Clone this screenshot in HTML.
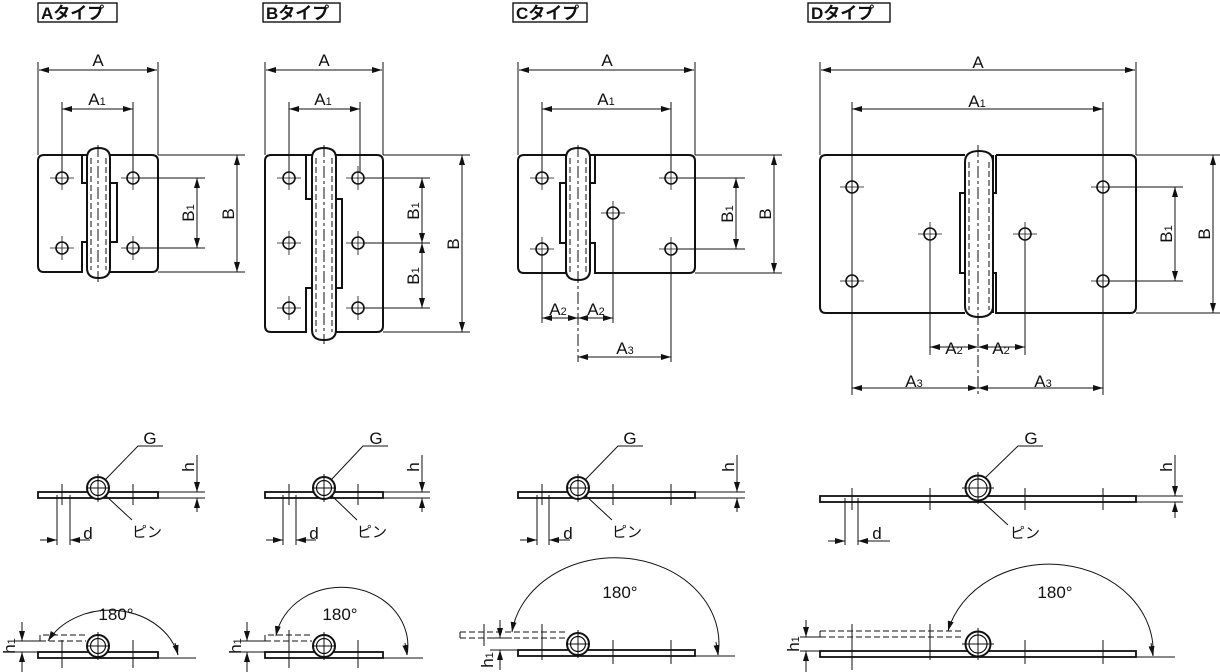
<!DOCTYPE html>
<html><head><meta charset="utf-8"><style>
html,body{margin:0;padding:0;background:#fff;width:1220px;height:672px;overflow:hidden}
svg{display:block}
text{font-family:"Liberation Sans","Noto Sans CJK JP",sans-serif;fill:#111}
</style></head><body>
<svg width="1220" height="672" viewBox="0 0 1220 672" xmlns="http://www.w3.org/2000/svg">
<defs>
<marker id="a" viewBox="0 0 10 6" refX="10" refY="3" markerWidth="10" markerHeight="6" markerUnits="userSpaceOnUse" orient="auto"><path d="M0,0L10,3L0,6z" fill="#111"/></marker>
<g id="h"><circle r="6" fill="#fff" stroke="#111" stroke-width="1.6"/><path d="M-12,0H12M0,-12V12" stroke="#111" stroke-width="0.8"/></g>
</defs>
<g fill="none" stroke="#111" stroke-width="1">

<rect x="38" y="3" width="79" height="19" stroke-width="1.4"/>
<rect x="263" y="3" width="77" height="19" stroke-width="1.4"/>
<rect x="513" y="3" width="74" height="19" stroke-width="1.4"/>
<rect x="808" y="3" width="82" height="19" stroke-width="1.4"/>

<g stroke-width="2">
<path d="M87,155H44q-6,0-6,6V266q0,6,6,6H82V242H117V183H82V155"/>
<path d="M110,155H152q6,0,6,6V266q0,6-6,6H110"/>
<path d="M87,158q0-10,11.5-10q11.5,0,11.5,10V268q0,10-11.5,10q-11.5,0-11.5-10z" fill="#fff"/>
</g>
<path d="M91,158V270M106,158V270" stroke-dasharray="6,3"/>
<path d="M98,145V282" stroke-dasharray="12,3,3,3"/>
<use href="#h" x="62" y="178"/><use href="#h" x="133" y="178"/><use href="#h" x="62" y="248"/><use href="#h" x="133" y="248"/>
<path d="M38,62V155M158,62V155M62,102V172M133,102V172M140,178H205M140,248H205M158,155H245M158,272H245"/>

<g stroke-width="2">
<path d="M312,155H271q-6,0-6,6V326q0,6,6,6H306V288H342V199H306V155"/>
<path d="M336,155H377q6,0,6,6V326q0,6-6,6H336"/>
<path d="M312,158q0-10,12-10q12,0,12,10V330q0,10-12,10q-12,0-12-10z" fill="#fff"/>
</g>
<path d="M316,158V332M332,158V332" stroke-dasharray="6,3"/>
<path d="M324,145V344" stroke-dasharray="12,3,3,3"/>
<use href="#h" x="289" y="178"/><use href="#h" x="358" y="178"/><use href="#h" x="289" y="243"/><use href="#h" x="358" y="243"/><use href="#h" x="289" y="308"/><use href="#h" x="358" y="308"/>
<path d="M265,62V155M383,62V155M289,102V172M360,102V172M365,178H430M365,243H430M365,308H430M383,155H470M383,332H470"/>

<g stroke-width="2">
<path d="M566,155H524q-6,0-6,6V267q0,6,6,6H566V243H560V183H566V155"/>
<path d="M590,155H595V183H590M590,243H595V273H689q6,0,6-6V161q0-6-6-6H595"/>
<path d="M566,158q0-10,12-10q12,0,12,10V270q0,10-12,10q-12,0-12-10z" fill="#fff"/>
</g>
<path d="M570,158V272M586,158V272" stroke-dasharray="6,3"/>
<path d="M578,145V362" stroke-dasharray="12,3,3,3"/>
<use href="#h" x="542" y="178"/><use href="#h" x="671" y="178"/><use href="#h" x="542" y="249"/><use href="#h" x="671" y="249"/><use href="#h" x="613" y="213"/>
<path d="M518,62V155M695,62V155M542,102V172M671,102V172M542,255V323M613,219V323M671,255V362M678,178H745M678,249H745M695,155H782M695,273H782"/>

<g stroke-width="2">
<path d="M965,155H826q-6,0-6,6V307q0,6,6,6H965M993,155V193H960V273H993V313"/>
<path d="M996,155V193H993M993,273H996V313H1130q6,0,6-6V161q0-6-6-6H996"/>
<path d="M965,162q0-11,14-11q14,0,14,11V306q0,11-14,11q-14,0-14-11z" fill="#fff"/>
</g>
<path d="M969,162V310M989,162V310" stroke-dasharray="6,3"/>
<path d="M978,145V395" stroke-dasharray="12,3,3,3"/>
<use href="#h" x="852" y="187"/><use href="#h" x="1103" y="187"/><use href="#h" x="852" y="281"/><use href="#h" x="1103" y="281"/><use href="#h" x="930" y="234"/><use href="#h" x="1025" y="234"/>
<path d="M820,62V155M1136,62V155M852,102V395M1103,102V395M930,240V355M1025,240V355M1110,187H1183M1110,281H1183M1136,155H1220M1136,313H1220"/>

<g marker-end="url(#a)">
<path d="M98,70H39"/><path d="M98,70H157"/><path d="M97,109H62"/><path d="M97,109H133"/>
<path d="M197,213V178"/><path d="M197,213V248"/><path d="M237,213V155"/><path d="M237,213V272"/>
<path d="M324,70H266"/><path d="M324,70H382"/><path d="M324,109H289"/><path d="M324,109H360"/>
<path d="M422,210V178"/><path d="M422,210V243"/><path d="M422,276V243"/><path d="M422,276V308"/>
<path d="M462,244V155"/><path d="M462,244V332"/>
<path d="M606,70H519"/><path d="M606,70H694"/><path d="M606,109H542"/><path d="M606,109H671"/>
<path d="M736,213V178"/><path d="M736,213V249"/><path d="M774,214V155"/><path d="M774,214V273"/>
<path d="M560,318H542"/><path d="M560,318H578"/><path d="M596,318H578"/><path d="M596,318H613"/>
<path d="M625,357H578"/><path d="M625,357H671"/>
<path d="M978,70H821"/><path d="M978,70H1135"/><path d="M978,109H852"/><path d="M978,109H1103"/>
<path d="M1175,234V187"/><path d="M1175,234V281"/><path d="M1213,234V155"/><path d="M1213,234V313"/>
<path d="M954,347H930"/><path d="M954,347H978"/><path d="M1001,347H978"/><path d="M1001,347H1025"/>
<path d="M915,388H852"/><path d="M915,388H978"/><path d="M1040,388H978"/><path d="M1040,388H1103"/>
</g>

<rect x="38" y="492" width="120" height="6" stroke-width="1.8"/>
<circle cx="98" cy="488" r="11" fill="#fff" stroke-width="2"/><circle cx="98" cy="488" r="7.5" stroke-width="1.2"/>
<path d="M86,488H110M98,474V502M62,484V505M133,484V505M57,495V545M70,495V545M158,492H205M158,498H205"/>
<path d="M163,446H138L105,480M105,495L132,520"/>
<g marker-end="url(#a)"><path d="M40,540H57"/><path d="M90,540H70"/><path d="M197,455V492"/><path d="M197,512V498"/></g>

<rect x="265" y="492" width="118" height="6" stroke-width="1.8"/>
<circle cx="324" cy="488" r="11" fill="#fff" stroke-width="2"/><circle cx="324" cy="488" r="7.5" stroke-width="1.2"/>
<path d="M312,488H336M324,474V502M289,484V505M358,484V505M283,495V545M296,495V545M383,492H430M383,498H430"/>
<path d="M388,446H363L331,480M331,495L357,520"/>
<g marker-end="url(#a)"><path d="M266,540H283"/><path d="M316,540H296"/><path d="M422,455V492"/><path d="M422,512V498"/></g>

<rect x="518" y="492" width="177" height="6" stroke-width="1.8"/>
<circle cx="578" cy="488" r="11" fill="#fff" stroke-width="2"/><circle cx="578" cy="488" r="7.5" stroke-width="1.2"/>
<path d="M566,488H590M578,474V502M542,484V505M613,484V505M671,484V505M537,495V545M549,495V545M695,492H745M695,498H745"/>
<path d="M643,446H618L585,480M585,495L612,520"/>
<g marker-end="url(#a)"><path d="M520,540H537"/><path d="M570,540H549"/><path d="M737,455V492"/><path d="M737,512V498"/></g>

<rect x="820" y="496" width="316" height="6" stroke-width="1.8"/>
<circle cx="978" cy="488" r="12.5" fill="#fff" stroke-width="2"/><circle cx="978" cy="488" r="9" stroke-width="1.2"/>
<path d="M962,488H994M978,472V504M852,488V510M930,488V510M1025,488V510M1103,488V510M845,498V545M858,498V545M1136,496H1183M1136,502H1183"/>
<path d="M1043,446H1018L985,478M983,502L1008,525"/>
<g marker-end="url(#a)"><path d="M828,541H845"/><path d="M890,541H858"/><path d="M1175,455V496"/><path d="M1175,518V502"/></g>

<rect x="38" y="652" width="120" height="6" stroke-width="1.8"/>
<path d="M40,641V635H86M40,641H86" stroke-dasharray="6,3"/>
<circle cx="98" cy="646" r="11" fill="#fff" stroke-width="2"/><circle cx="98" cy="646" r="7.5" stroke-width="1.2"/>
<path d="M86,646H110M98,632V660M62,640V668M133,640V668M158,658H196M15,641H40M15,652H40"/>
<g marker-end="url(#a)">
<path d="M178,655A70,58 0 0 0 48,641"/><path d="M175,643L178,655"/>
<path d="M22,622V641"/><path d="M22,672V652"/>
</g>

<rect x="265" y="652" width="118" height="6" stroke-width="1.8"/>
<path d="M265,641V635H312M265,641H312" stroke-dasharray="6,3"/>
<circle cx="324" cy="646" r="11" fill="#fff" stroke-width="2"/><circle cx="324" cy="646" r="7.5" stroke-width="1.2"/>
<path d="M312,646H336M324,632V660M289,630V668M358,640V668M383,658H423M240,641H265M240,652H265"/>
<g marker-end="url(#a)">
<path d="M407,655A66,58 0 0 0 276,636"/><path d="M405,643L407,655"/>
<path d="M247,622V641"/><path d="M247,672V652"/>
</g>

<rect x="518" y="650" width="177" height="6" stroke-width="1.8"/>
<path d="M460,632H565M460,638H565M460,632V638" stroke-dasharray="6,3"/>
<circle cx="578" cy="644" r="11" fill="#fff" stroke-width="2"/><circle cx="578" cy="644" r="7.5" stroke-width="1.2"/>
<path d="M566,644H590M578,630V658M484,624V646M542,624V660M613,640V664M671,640V664M695,656H735M490,638H512M490,650H518"/>
<g marker-end="url(#a)">
<path d="M718,655A103,85 0 0 0 512,632"/><path d="M716,642L718,655"/>
<path d="M500,620V638"/><path d="M500,670V650"/>
</g>

<rect x="820" y="651" width="316" height="6" stroke-width="1.8"/>
<path d="M820,631H964M820,637H964M820,631V637" stroke-dasharray="6,3"/>
<circle cx="978" cy="644" r="12.5" fill="#fff" stroke-width="2"/><circle cx="978" cy="644" r="9" stroke-width="1.2"/>
<path d="M962,644H994M978,628V660M852,624V670M930,624V660M1025,640V664M1103,640V664M1136,657H1175M800,637H820M800,651H820"/>
<g marker-end="url(#a)">
<path d="M1153,656A104,87 0 0 0 948,631"/><path d="M1151,643L1153,656"/>
<path d="M806,620V637"/><path d="M806,672V651"/>
</g>
</g>

<g font-size="17" font-weight="bold">
<text x="41" y="19">Aタイプ</text><text x="266" y="19">Bタイプ</text><text x="516" y="19">Cタイプ</text><text x="811" y="19">Dタイプ</text>
</g>
<g font-size="17" text-anchor="middle">
<text x="98" y="66">A</text><text x="97" y="105">A<tspan font-size="11">1</tspan></text>
<text x="324" y="66">A</text><text x="323" y="105">A<tspan font-size="11">1</tspan></text>
<text x="607" y="66">A</text><text x="606" y="105">A<tspan font-size="11">1</tspan></text>
<text x="978" y="68">A</text><text x="977" y="107">A<tspan font-size="11">1</tspan></text>
<text x="558" y="315">A<tspan font-size="11">2</tspan></text><text x="596" y="315">A<tspan font-size="11">2</tspan></text>
<text x="625" y="354">A<tspan font-size="11">3</tspan></text>
<text x="954" y="354">A<tspan font-size="11">2</tspan></text><text x="1001" y="354">A<tspan font-size="11">2</tspan></text>
<text x="914" y="387">A<tspan font-size="11">3</tspan></text><text x="1043" y="387">A<tspan font-size="11">3</tspan></text>
<text transform="translate(194,213) rotate(-90)">B<tspan font-size="11">1</tspan></text>
<text transform="translate(234,214) rotate(-90)">B</text>
<text transform="translate(419,211) rotate(-90)">B<tspan font-size="11">1</tspan></text>
<text transform="translate(419,276) rotate(-90)">B<tspan font-size="11">1</tspan></text>
<text transform="translate(459,244) rotate(-90)">B</text>
<text transform="translate(733,214) rotate(-90)">B<tspan font-size="11">1</tspan></text>
<text transform="translate(771,214) rotate(-90)">B</text>
<text transform="translate(1172,234) rotate(-90)">B<tspan font-size="11">1</tspan></text>
<text transform="translate(1210,234) rotate(-90)">B</text>
<text x="150" y="444">G</text><text x="376" y="444">G</text><text x="630" y="444">G</text><text x="1031" y="444">G</text>
<text transform="translate(194,467) rotate(-90)">h</text><text transform="translate(419,467) rotate(-90)">h</text>
<text transform="translate(734,467) rotate(-90)">h</text><text transform="translate(1172,467) rotate(-90)">h</text>
<text x="88" y="539">d</text><text x="314" y="539">d</text><text x="568" y="539">d</text><text x="877" y="539">d</text>
<text x="147" y="537" font-size="15">ピン</text><text x="372" y="537" font-size="15">ピン</text>
<text x="627" y="537" font-size="15">ピン</text><text x="1025" y="538" font-size="15">ピン</text>
<text x="116" y="620">180°</text><text x="340" y="620">180°</text><text x="620" y="598">180°</text><text x="1055" y="598">180°</text>
<text transform="translate(15,646) rotate(-90)">h<tspan font-size="11">1</tspan></text>
<text transform="translate(241,646) rotate(-90)">h<tspan font-size="11">1</tspan></text>
<text transform="translate(493,660) rotate(-90)">h<tspan font-size="11">1</tspan></text>
<text transform="translate(799,644) rotate(-90)">h<tspan font-size="11">1</tspan></text>
</g>
</svg>
</body></html>
